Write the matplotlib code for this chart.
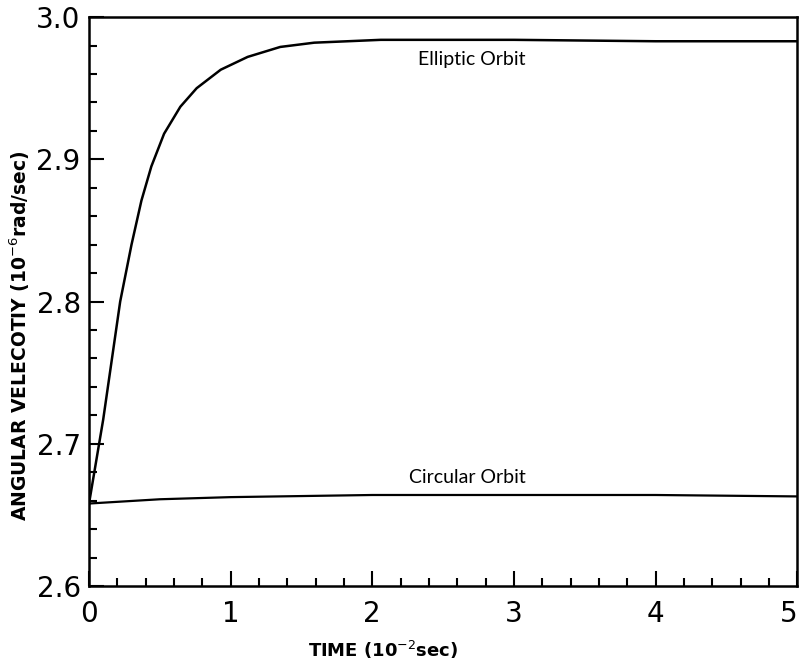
import matplotlib.pyplot as plt
from matplotlib.ticker import MultipleLocator

# Data
t_elliptic = [0, 0.1, 0.22, 0.3, 0.37, 0.44, 0.53, 0.645, 0.76, 0.93, 1.12, 1.35, 1.59,
              2.06, 3.0, 4.0, 5.0]
w_elliptic = [2.658, 2.717, 2.800, 2.840, 2.871, 2.895, 2.918, 2.937, 2.950, 2.963, 2.972,
              2.979, 2.982, 2.984, 2.984, 2.983, 2.983]

t_circular = [0, 0.5, 1.0, 2.0, 3.0, 4.0, 5.0]
w_circular = [2.658, 2.661, 2.6625, 2.664, 2.664, 2.664, 2.663]

x_ticks = [0, 1, 2, 3, 4, 5]
y_ticks = [2.6, 2.7, 2.8, 2.9, 3.0]

fig = plt.figure(figsize=(8.02, 6.67), dpi=100)
ax = fig.add_axes([0.111, 0.1214, 0.883, 0.853])

ax.plot(t_elliptic, w_elliptic, color='black', lw=1.8)
ax.plot(t_circular, w_circular, color='black', lw=1.6)

# curve labels
ax.text(2.7, 2.9705, 'Elliptic Orbit', ha='center', va='center', fontsize=14,
        family=['Lato', 'DejaVu Sans'])
ax.text(2.67, 2.676, 'Circular Orbit', ha='center', va='center', fontsize=14,
        family=['Lato', 'DejaVu Sans'])

ax.set_xlim(0, 5)
ax.set_ylim(2.6, 3.0)
ax.xaxis.set_minor_locator(MultipleLocator(0.2))
ax.yaxis.set_minor_locator(MultipleLocator(0.02))
ax.set_xticks(x_ticks)
ax.set_xticklabels([str(v) for v in x_ticks])
ax.set_yticks(y_ticks)
ax.set_yticklabels(['%.1f' % v for v in y_ticks])

ax.tick_params(which='both', direction='in', top=False, right=False, width=1.5)
ax.tick_params(which='major', length=11, labelsize=20)
ax.tick_params(axis='x', which='major', pad=10)
ax.tick_params(axis='y', which='major', pad=6)
ax.tick_params(which='minor', length=6)
for s in ax.spines.values():
    s.set_linewidth(1.8)

# keep the last x label inside the figure
ax.get_xticklabels()[-1].set_horizontalalignment('right')

ax.set_xlabel('TIME (10$^{-2}$sec)', fontsize=13, fontweight='bold', va='center')
ax.xaxis.set_label_coords(0.415, -0.112)
ax.set_ylabel('ANGULAR VELECOTIY (10$^{-6}$rad/sec)', fontsize=13.5, fontweight='bold',
              va='center')
ax.yaxis.set_label_coords(-0.098, 0.441)

plt.savefig('out.png', dpi=100)
